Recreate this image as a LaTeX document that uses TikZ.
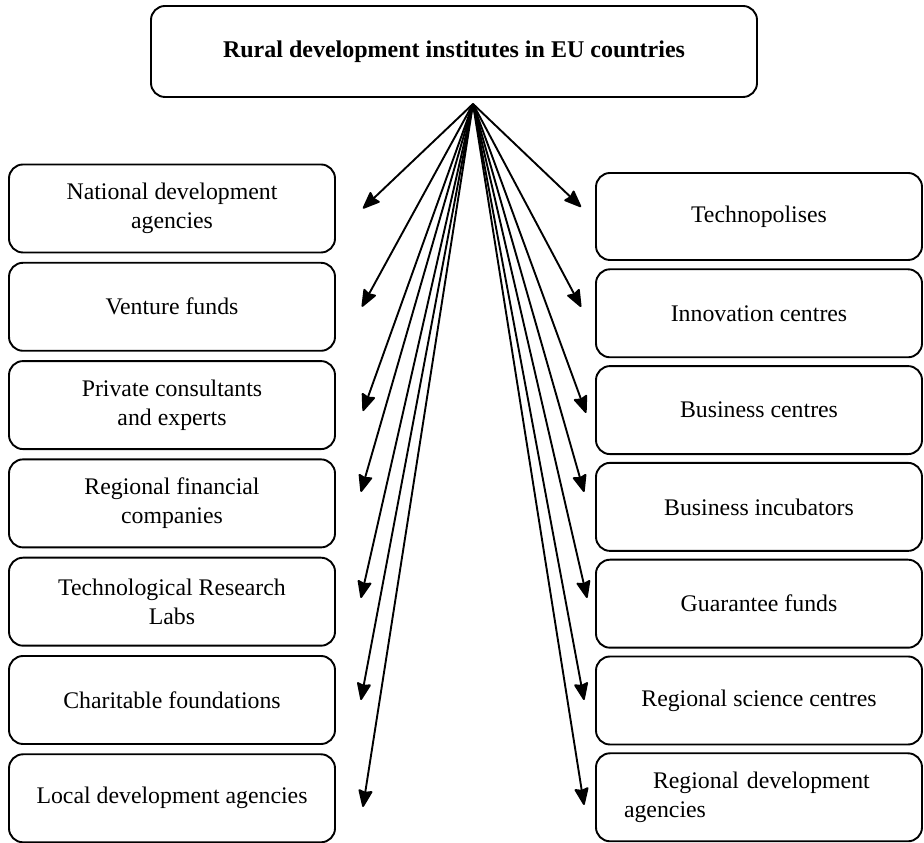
\documentclass[tikz,border=0pt]{standalone}
\usepackage{fontspec}
\setmainfont{Liberation Serif}
\usepackage{tikz}
\usetikzlibrary{arrows.meta}

\begin{document}
\begin{tikzpicture}[x=1pt,y=1pt,line width=1.9pt,node distance=98.3pt]
 \tikzstyle{inst}=[draw,rounded corners=14pt,minimum width=326pt,minimum height=88pt,inner sep=0pt,align=center,font=\fontsize{23.8}{29}\selectfont]
 \tikzstyle{head}=[inst,minimum width=606pt,minimum height=91pt,font=\fontsize{24}{29}\selectfont\bfseries]
 \tikzstyle{link}=[-{Stealth[length=19pt,width=15pt,inset=2pt,round=false]},rounded corners=0pt]
 \useasboundingbox (0,0) rectangle (924,843);

   \node[head] (top) at (454,791.5) {Rural development institutes in EU countries};
   \coordinate (src) at ([xshift=19pt,yshift=-6pt]top.south);

   % left column
   \node[inst] (l1) at (172,634.5) {National development\\agencies};
   \node[inst] (l2) [below of = l1] {Venture funds};
   \node[inst] (l3) [below of = l2] {Private consultants\\and experts};
   \node[inst] (l4) [below of = l3] {Regional financial\\companies};
   \node[inst] (l5) [below of = l4] {Technological Research\\Labs};
   \node[inst] (l6) [below of = l5] {Charitable foundations};
   \node[inst] (l7) [below of = l6] {Local development agencies};

   % right column
   \node[inst,minimum height=87pt] (r1) at (759,626.5) {Technopolises};
   \node[inst,node distance=96.8pt] (r2) [below of = r1] {Innovation centres};
   \node[inst,node distance=96.8pt] (r3) [below of = r2] {Business centres};
   \node[inst,node distance=96.8pt] (r4) [below of = r3] {Business incubators};
   \node[inst,node distance=96.8pt] (r5) [below of = r4] {Guarantee funds};
   \node[inst,node distance=96.8pt] (r6) [below of = r5] {Regional science centres};
   \node[inst,node distance=96.8pt,text width=270pt,align=left] (r7) [below of = r6] {\hspace*{29pt}Regional development\\agencies};

   \path[link]
   (src) edge[link] ([xshift=27pt]l1.east)
   (src) edge[link] ([xshift=26pt]l2.east)
   (src) edge[link] ([xshift=27pt,yshift=-6pt]l3.east)
   (src) edge[link] ([xshift=25pt,yshift=11.4pt]l4.east)
   (src) edge[link] ([xshift=25pt,yshift=3.7pt]l5.east)
   (src) edge[link] ([xshift=25pt]l6.east)
   (src) edge[link] ([xshift=27pt,yshift=-8.7pt]l7.east)
   (src) edge[link] ([xshift=-14pt,yshift=9.5pt]r1.west)
   (src) edge[link] ([xshift=-14pt,yshift=6.3pt]r2.west)
   (src) edge[link] ([xshift=-9pt,yshift=-2.9pt]r3.west)
   (src) edge[link] ([xshift=-11pt,yshift=14.9pt]r4.west)
   (src) edge[link] ([xshift=-8pt,yshift=5.7pt]r5.west)
   (src) edge[link] ([xshift=-11pt,yshift=0.5pt]r6.west)
   (src) edge[link] ([xshift=-11pt,yshift=-7.7pt]r7.west);

\end{tikzpicture}
\end{document}
